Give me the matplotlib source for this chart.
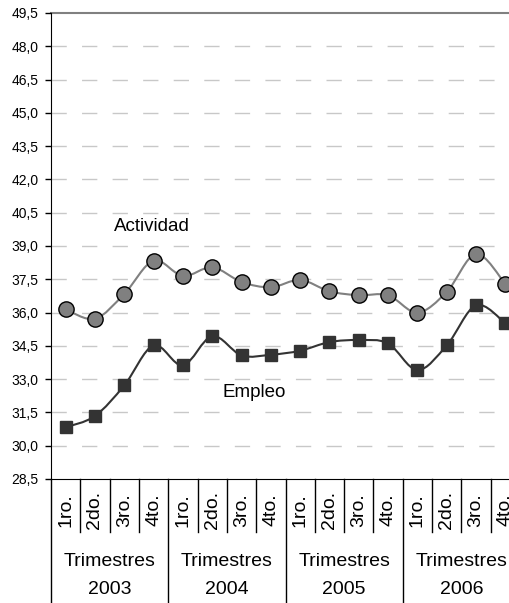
import matplotlib
matplotlib.use('Agg')
import matplotlib.pyplot as plt
from matplotlib.path import Path
from matplotlib.patches import PathPatch
import numpy as np

plt.rcParams['font.family'] = ['Liberation Sans', 'DejaVu Sans']
plt.rcParams['lines.scale_dashes'] = False

# datos
trimestres = ['1ro.', '2do.', '3ro.', '4to.']
anios = ['2003', '2004', '2005', '2006']
actividad = [36.15, 35.72, 36.84, 38.34, 37.65, 38.04, 37.38, 37.14,
             37.47, 36.96, 36.78, 36.78, 36.00, 36.93, 38.64, 37.29]
empleo = [30.83, 31.34, 32.72, 34.52, 33.62, 34.94, 34.07, 34.10,
          34.28, 34.67, 34.76, 34.61, 33.41, 34.52, 36.33, 35.52]
yticks = [28.5, 30.0, 31.5, 33.0, 34.5, 36.0, 37.5, 39.0, 40.5, 42.0,
          43.5, 45.0, 46.5, 48.0, 49.5]

W, H = 509, 603
fig = plt.figure(figsize=(W / 100, H / 100), dpi=100)
ax = fig.add_axes([51 / W, 1 - 479 / H, 469 / W, 466 / H])

n = len(actividad)
xs = np.arange(1, n + 1)
ax.set_xlim(0.5, n + 0.5)
ax.set_ylim(28.5, 49.5)


def smooth(x, y):
    # curva suave tipo excel con bezier cubicas
    pts = np.column_stack([x, y])
    verts = [pts[0]]
    codes = [Path.MOVETO]
    for i in range(len(pts) - 1):
        p0 = pts[i - 1] if i > 0 else pts[i]
        p1 = pts[i]
        p2 = pts[i + 1]
        p3 = pts[i + 2] if i + 2 < len(pts) else pts[i + 1]
        c1 = p1 + (p2 - p0) / 6
        c2 = p2 - (p3 - p1) / 6
        verts += [c1, c2, p2]
        codes += [Path.CURVE4] * 3
    return Path(verts, codes)


# grid
for yv in yticks[1:-1]:
    ax.axhline(yv, color='#c8c8c8', lw=1.0, ls=(0, (11, 11)), zorder=1)
ax.axhline(49.5, color='#808080', lw=1.5, zorder=1, clip_on=False)

ax.add_patch(PathPatch(smooth(xs, actividad), fill=False, edgecolor='#808080', lw=1.5, zorder=2))
ax.add_patch(PathPatch(smooth(xs, empleo), fill=False, edgecolor='#333333', lw=1.5, zorder=2))
ax.plot(xs, actividad, ls='none', marker='o', ms=11, mfc='#808080', mec='black', mew=1.0, zorder=3)
ax.plot(xs, empleo, ls='none', marker='s', ms=9, mfc='#333333', mec='#333333', zorder=3)

ax.text(3.95, 39.86, 'Actividad', fontsize=13.5, ha='center', va='center')
ax.text(7.43, 32.42, 'Empleo', fontsize=13.5, ha='center', va='center')

for s in ['top', 'right']:
    ax.spines[s].set_visible(False)
ax.spines['left'].set_color('black')
ax.spines['bottom'].set_color('black')
ax.set_yticks(yticks)
ax.set_yticklabels([f'{v:.1f}'.replace('.', ',') for v in yticks], fontsize=10)
ax.tick_params(axis='y', direction='out', length=4, width=1, pad=5)
ax.set_xticks([])

# eje de categorias multinivel
tr = ax.get_xaxis_transform()
def fy(py):
    return -(py - 479) / 466.0

for i in range(n + 1):
    xb = 0.5 + i
    bottom = fy(603) if i % 4 == 0 else fy(532)
    ax.plot([xb, xb], [0, bottom], transform=tr, color='black', lw=1, clip_on=False)

for i in range(n):
    ax.text(xs[i], fy(510), trimestres[i % 4], transform=tr, rotation=90,
            ha='center', va='center', fontsize=14)

for j, a in enumerate(anios):
    xc = 4 * j + 2.5
    ax.text(xc, fy(562), 'Trimestres', transform=tr, ha='center', va='center', fontsize=14)
    ax.text(xc, fy(590), a, transform=tr, ha='center', va='center', fontsize=14)

fig.savefig('out.png', dpi=100)
